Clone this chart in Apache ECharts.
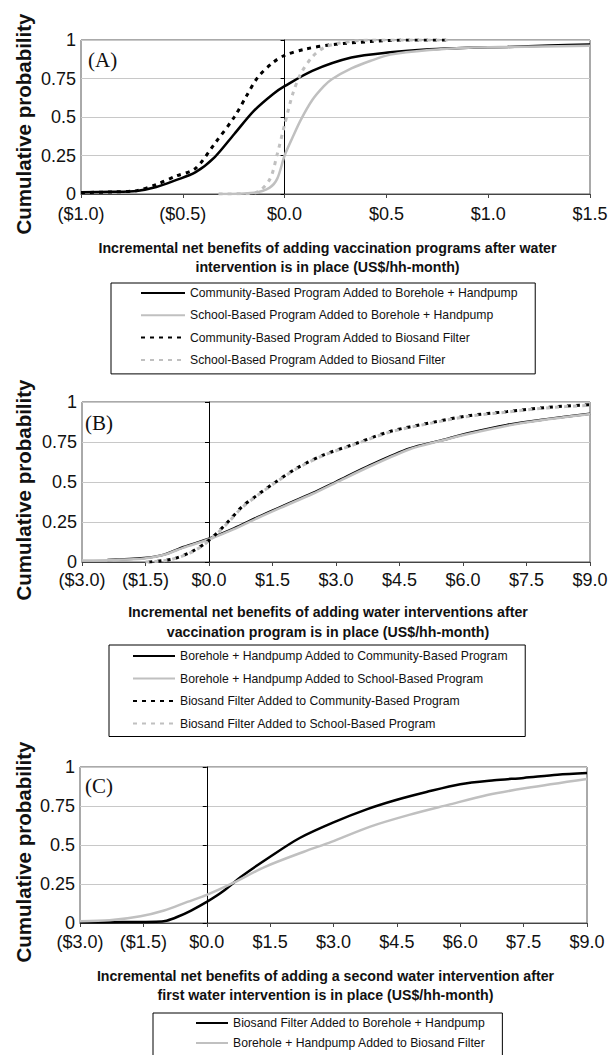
<!DOCTYPE html>
<html><head><meta charset="utf-8">
<script src="https://cdn.jsdelivr.net/npm/echarts@6/dist/echarts.min.js"></script>
<style>html,body{margin:0;padding:0;background:#fff}#c{width:612px;height:1055px}</style>
</head><body><div id="c"></div>
<script>
// ---------- Panel A data: [incremental net benefit (US$/hh-month), cumulative probability]
const A_commAddedToBorehole = [[-1.0,0.012],[-0.85,0.014],[-0.726,0.02],[-0.63,0.045],[-0.534,0.09],[-0.439,0.14],[-0.343,0.24],[-0.247,0.39],[-0.151,0.54],[-0.056,0.65],[0.0,0.70],[0.136,0.80],[0.328,0.886],[0.519,0.92],[0.711,0.94],[0.902,0.95],[1.094,0.955],[1.3,0.965],[1.5,0.97]];
const A_schoolAddedToBorehole = [[-0.324,0.0],[-0.151,0.008],[-0.075,0.04],[-0.036,0.1],[0.0,0.25],[0.04,0.37],[0.079,0.48],[0.136,0.61],[0.193,0.70],[0.232,0.745],[0.328,0.815],[0.423,0.865],[0.519,0.905],[0.711,0.935],[0.902,0.95],[1.094,0.955],[1.5,0.962]];
const A_commAddedToBiosand = [[-1.0,0.01],[-0.85,0.013],[-0.726,0.022],[-0.63,0.062],[-0.534,0.116],[-0.439,0.165],[-0.343,0.328],[-0.247,0.50],[-0.19,0.63],[-0.132,0.757],[-0.056,0.855],[0.0,0.90],[0.098,0.94],[0.232,0.97],[0.423,0.99],[0.6,1.0],[0.8,1.0]];
const A_schoolAddedToBiosand = [[-0.324,0.0],[-0.151,0.005],[-0.075,0.09],[-0.036,0.26],[0.0,0.45],[0.04,0.65],[0.079,0.78],[0.136,0.89],[0.193,0.95],[0.27,0.98],[0.423,1.0],[0.8,1.0]];

// ---------- Panel B data
const B_boreholeAddedToComm = [[-2.4,0.013],[-1.53,0.025],[-1.06,0.046],[-0.60,0.094],[0.0,0.146],[0.59,0.21],[1.15,0.28],[1.70,0.345],[2.44,0.43],[2.99,0.50],[3.82,0.607],[4.74,0.71],[5.48,0.76],[6.12,0.805],[7.04,0.857],[7.97,0.893],[9.0,0.927]];
const B_boreholeAddedToSchool = [[-3.0,0.01],[-2.2,0.013],[-1.53,0.022],[-1.06,0.045],[-0.60,0.09],[0.0,0.142],[0.59,0.205],[1.15,0.275],[1.70,0.34],[2.44,0.425],[2.99,0.495],[3.82,0.60],[4.74,0.705],[5.48,0.758],[6.12,0.80],[7.04,0.852],[7.97,0.89],[9.0,0.925]];
const B_biosandAddedToComm = [[-1.43,0.0],[-0.88,0.017],[-0.42,0.063],[0.0,0.136],[0.41,0.24],[0.78,0.345],[1.15,0.42],[1.52,0.49],[2.07,0.586],[2.71,0.67],[3.36,0.73],[4.28,0.816],[5.20,0.868],[6.12,0.914],[7.04,0.94],[7.97,0.966],[9.0,0.983]];
const B_biosandAddedToSchool = [[-1.5,0.0],[-0.9,0.015],[-0.42,0.06],[0.0,0.132],[0.41,0.235],[0.78,0.34],[1.15,0.417],[1.52,0.487],[2.07,0.583],[2.71,0.667],[3.36,0.727],[4.28,0.812],[5.20,0.865],[6.12,0.91],[7.04,0.937],[7.97,0.963],[9.0,0.98]];

// ---------- Panel C data
const C_biosandAddedToBorehole = [[-3.0,0.005],[-2.0,0.006],[-1.2,0.008],[-0.95,0.015],[-0.69,0.04],[-0.37,0.08],[0.0,0.135],[0.37,0.2],[0.83,0.3],[1.5,0.425],[2.2,0.545],[3.0,0.645],[3.8,0.73],[4.5,0.79],[5.2,0.84],[6.0,0.89],[6.8,0.915],[7.5,0.93],[8.3,0.95],[9.0,0.961]];
const C_boreholeAddedToBiosand = [[-3.0,0.011],[-2.3,0.017],[-1.57,0.043],[-1.01,0.08],[-0.46,0.135],[0.0,0.18],[0.65,0.26],[1.38,0.36],[2.3,0.457],[2.95,0.52],[3.87,0.618],[4.79,0.693],[5.71,0.757],[6.64,0.82],[7.56,0.865],[9.0,0.923]];

// ---------- Text
const yAxisTitle = 'Cumulative probability';
const panelLabels = ['(A)', '(B)', '(C)'];
const xTitles = [
  'Incremental net benefits of adding vaccination programs after water\nintervention is in place (US$/hh-month)',
  'Incremental net benefits of adding water interventions after\nvaccination program is in place (US$/hh-month)',
  'Incremental net benefits of adding a second water intervention after\nfirst water intervention is in place (US$/hh-month)'
];
const xRanges = [[-1, 1.5, 0.5], [-3, 9, 1.5], [-3, 9, 1.5]];
const yTicks = [0, 0.25, 0.5, 0.75, 1];

const seriesSpec = [
  [
    {name:'Community-Based Program Added to Borehole + Handpump', data:A_commAddedToBorehole, color:'#000', dashed:false},
    {name:'School-Based Program Added to Borehole + Handpump', data:A_schoolAddedToBorehole, color:'#c0c0c0', dashed:false},
    {name:'Community-Based Program Added to Biosand Filter', data:A_commAddedToBiosand, color:'#000', dashed:true},
    {name:'School-Based Program Added to Biosand Filter', data:A_schoolAddedToBiosand, color:'#c0c0c0', dashed:true}
  ],
  [
    {name:'Borehole + Handpump Added to Community-Based Program', data:B_boreholeAddedToComm, color:'#000', dashed:false},
    {name:'Borehole + Handpump Added to School-Based Program', data:B_boreholeAddedToSchool, color:'#c0c0c0', dashed:false},
    {name:'Biosand Filter Added to Community-Based Program', data:B_biosandAddedToComm, color:'#000', dashed:true},
    {name:'Biosand Filter Added to School-Based Program', data:B_biosandAddedToSchool, color:'#c0c0c0', dashed:true}
  ],
  [
    {name:'Biosand Filter Added to Borehole + Handpump', data:C_biosandAddedToBorehole, color:'#000', dashed:false},
    {name:'Borehole + Handpump Added to Biosand Filter', data:C_boreholeAddedToBiosand, color:'#c0c0c0', dashed:false}
  ]
];

// ---------- Layout (positions/styles only)
const SANS = '"Liberation Sans", Arial, Helvetica, sans-serif';
const SERIF = '"Liberation Serif", "Times New Roman", serif';
const layout = [
  {grid:{left:81,right:22,top:40,height:154}, labelMargin:11, nameGap:44, lineHeight:19,
   legend:{left:111,top:283,padding:[3,17,7,29],itemWidth:44,itemGap:8.3},
   label:[88,60], yTitleY:124},
  {grid:{left:82,right:22,top:402,height:160}, labelMargin:9, nameGap:40, lineHeight:20,
   legend:{left:109,top:645,padding:[4,17,6,23],itemWidth:42,itemGap:8.5},
   label:[85,423], yTitleY:490},
  {grid:{left:80,right:25,top:767,height:156}, labelMargin:10, nameGap:44, lineHeight:18.5,
   legend:{left:153,top:1013,padding:[3,17,20,42],itemWidth:32,itemGap:6, height:120},
   label:[85,786], yTitleY:852}
];

function money(v){
  const s = '$' + Math.abs(v).toFixed(1);
  return v < 0 ? '(' + s + ')' : s;
}

const grids=[], xAxes=[], yAxes=[], series=[], legends=[], graphics=[];
layout.forEach((L, i) => {
  grids.push(Object.assign({show:true, borderColor:'#555', borderWidth:1, backgroundColor:'#fff'}, L.grid));
  const [mn, mx, iv] = xRanges[i];
  xAxes.push({
    type:'value', gridIndex:i, min:mn, max:mx, interval:iv,
    axisLine:{show:true, onZero:false, lineStyle:{color:'#444', width:1}},
    axisTick:{show:true, length:4, lineStyle:{color:'#444'}},
    axisLabel:{formatter:money, fontSize:18, color:'#111', fontFamily:SANS, margin:L.labelMargin, showMinLabel:true, showMaxLabel:true},
    splitLine:{show:false},
    name:xTitles[i], nameLocation:'middle', nameGap:L.nameGap,
    nameTextStyle:{fontFamily:SANS, fontSize:14.2, fontWeight:'bold', color:'#111', lineHeight:L.lineHeight, align:'center', padding:[0,16,0,0]}
  });
  yAxes.push({
    type:'value', gridIndex:i, min:yTicks[0], max:yTicks[yTicks.length-1], interval:yTicks[1]-yTicks[0], position:'left',
    axisLine:{show:false, onZero:false}, axisTick:{show:false},
    axisLabel:{fontSize:18, color:'#111', fontFamily:SANS, margin:5},
    splitLine:{show:true, lineStyle:{color:'#c8c8c8', width:1}}
  });
  yAxes.push({
    type:'value', gridIndex:i, min:yTicks[0], max:yTicks[yTicks.length-1], interval:yTicks[1]-yTicks[0], position:'left',
    axisLine:{show:true, onZero:true, lineStyle:{color:'#000', width:1}},
    axisTick:{show:true, length:4, lineStyle:{color:'#000'}},
    axisLabel:{show:false}, splitLine:{show:false}
  });
  seriesSpec[i].forEach(s => {
    series.push({
      type:'line', name:s.name, data:s.data, xAxisIndex:i, yAxisIndex:2*i,
      symbol:'none', showSymbol:false, smooth:0.3, silent:true,
      lineStyle:{color:s.color, width:s.dashed?3:2.5, type:s.dashed?[4,5]:'solid'},
      itemStyle:{color:s.color}
    });
  });
  const lg = {
    orient:'vertical', align:'left', left:L.legend.left, top:L.legend.top, padding:L.legend.padding,
    itemWidth:L.legend.itemWidth, itemHeight:14, itemGap:L.legend.itemGap,
    borderColor:'#000', borderWidth:1, backgroundColor:'#fff', selectedMode:false,
    itemStyle:{color:'rgba(0,0,0,0)', borderColor:'rgba(0,0,0,0)', borderWidth:0},
    textStyle:{fontFamily:SANS, fontSize:12.2, lineHeight:14, color:'#111'},
    data:seriesSpec[i].map(s => s.name)
  };
  if (L.legend.height) lg.height = L.legend.height;
  legends.push(lg);
  graphics.push({
    type:'text', x:23, y:L.yTitleY, rotation:Math.PI/2,
    style:{text:yAxisTitle, fontFamily:SANS, fontSize:20.5, fontWeight:'bold', fill:'#111', align:'center', verticalAlign:'middle'}
  });
  graphics.push({
    type:'text', x:L.label[0], y:L.label[1], z:100,
    style:{text:panelLabels[i], fontFamily:SERIF, fontSize:21, fill:'#111', align:'left', verticalAlign:'middle'}
  });
});

const chart = echarts.init(document.getElementById('c'), null, {renderer:'svg'});
chart.setOption({
  animation:false,
  backgroundColor:'#fff',
  grid:grids, xAxis:xAxes, yAxis:yAxes, series:series, legend:legends,
  graphic:graphics
});
</script></body></html>
